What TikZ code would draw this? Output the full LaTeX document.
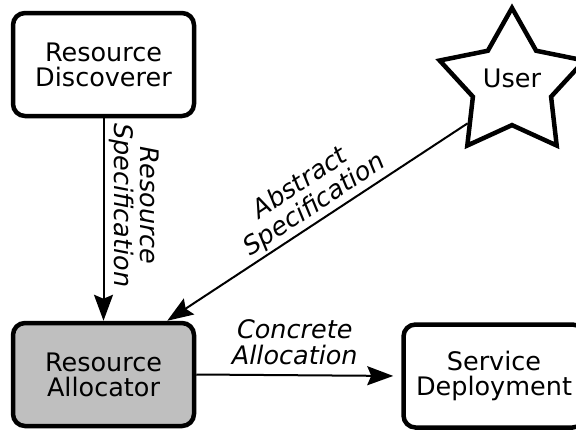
\documentclass[tikz,border=0pt]{standalone}
\usepackage{fontspec}
\setmainfont{DejaVu Sans}
\usetikzlibrary{shapes.geometric,arrows.meta,calc}

\begin{document}
\begin{tikzpicture}[
    x=1pt,
    y=1pt,
    every node/.style={
        font=\fontsize{25.5}{25}\selectfont,
    },
    block/.style={
        draw,
        line width=4.5pt,
        rounded corners=12pt,
        minimum width=181pt,
        minimum height=103pt,
        inner sep=0pt,
        align=center,
    },
    flow/.style={
        -{Stealth[length=26pt,width=19pt,inset=4pt]},
        line width=2pt,
    },
    note/.style={
        align=center,
        inner sep=2pt,
        font=\fontsize{25.5}{26}\selectfont\itshape,
    },
]
    \useasboundingbox (0,0) rectangle (576,-429);

    % boxes and the user
    \node[block] (disc) at (103.5,-64.5) {Resource\\Discoverer};
    \node[block,fill=black!25] (alloc) at (103.5,-374.5) {Resource\\Allocator};
    \node[block] (serv) at (494,-376) {Service\\Deployment};
    \node[draw,star,star points=5,star point ratio=1.85,minimum size=136pt,
        line width=4.5pt,inner sep=0pt,text depth=12pt] (user) at (512,-84) {User};

    % flows
    \draw[flow] (disc.south) -- (disc.south |- alloc.north)
        node[note,pos=0.43,rotate=-90,anchor=south,inner sep=5pt] {Resource\\Specification};
    \draw[flow] ($(user.inner point 2)!0.5!(user.outer point 3)$) -- ($(alloc.north east)+(-29,0)$)
        node[note,pos=0.48,rotate=33.6,anchor=south] {Abstract\\Specification};
    \draw[flow,shorten >=8pt] (alloc.east) -- (serv.west)
        node[note,midway,anchor=south,xshift=-4pt,inner sep=9pt] {Concrete\\Allocation};
\end{tikzpicture}
\end{document}
